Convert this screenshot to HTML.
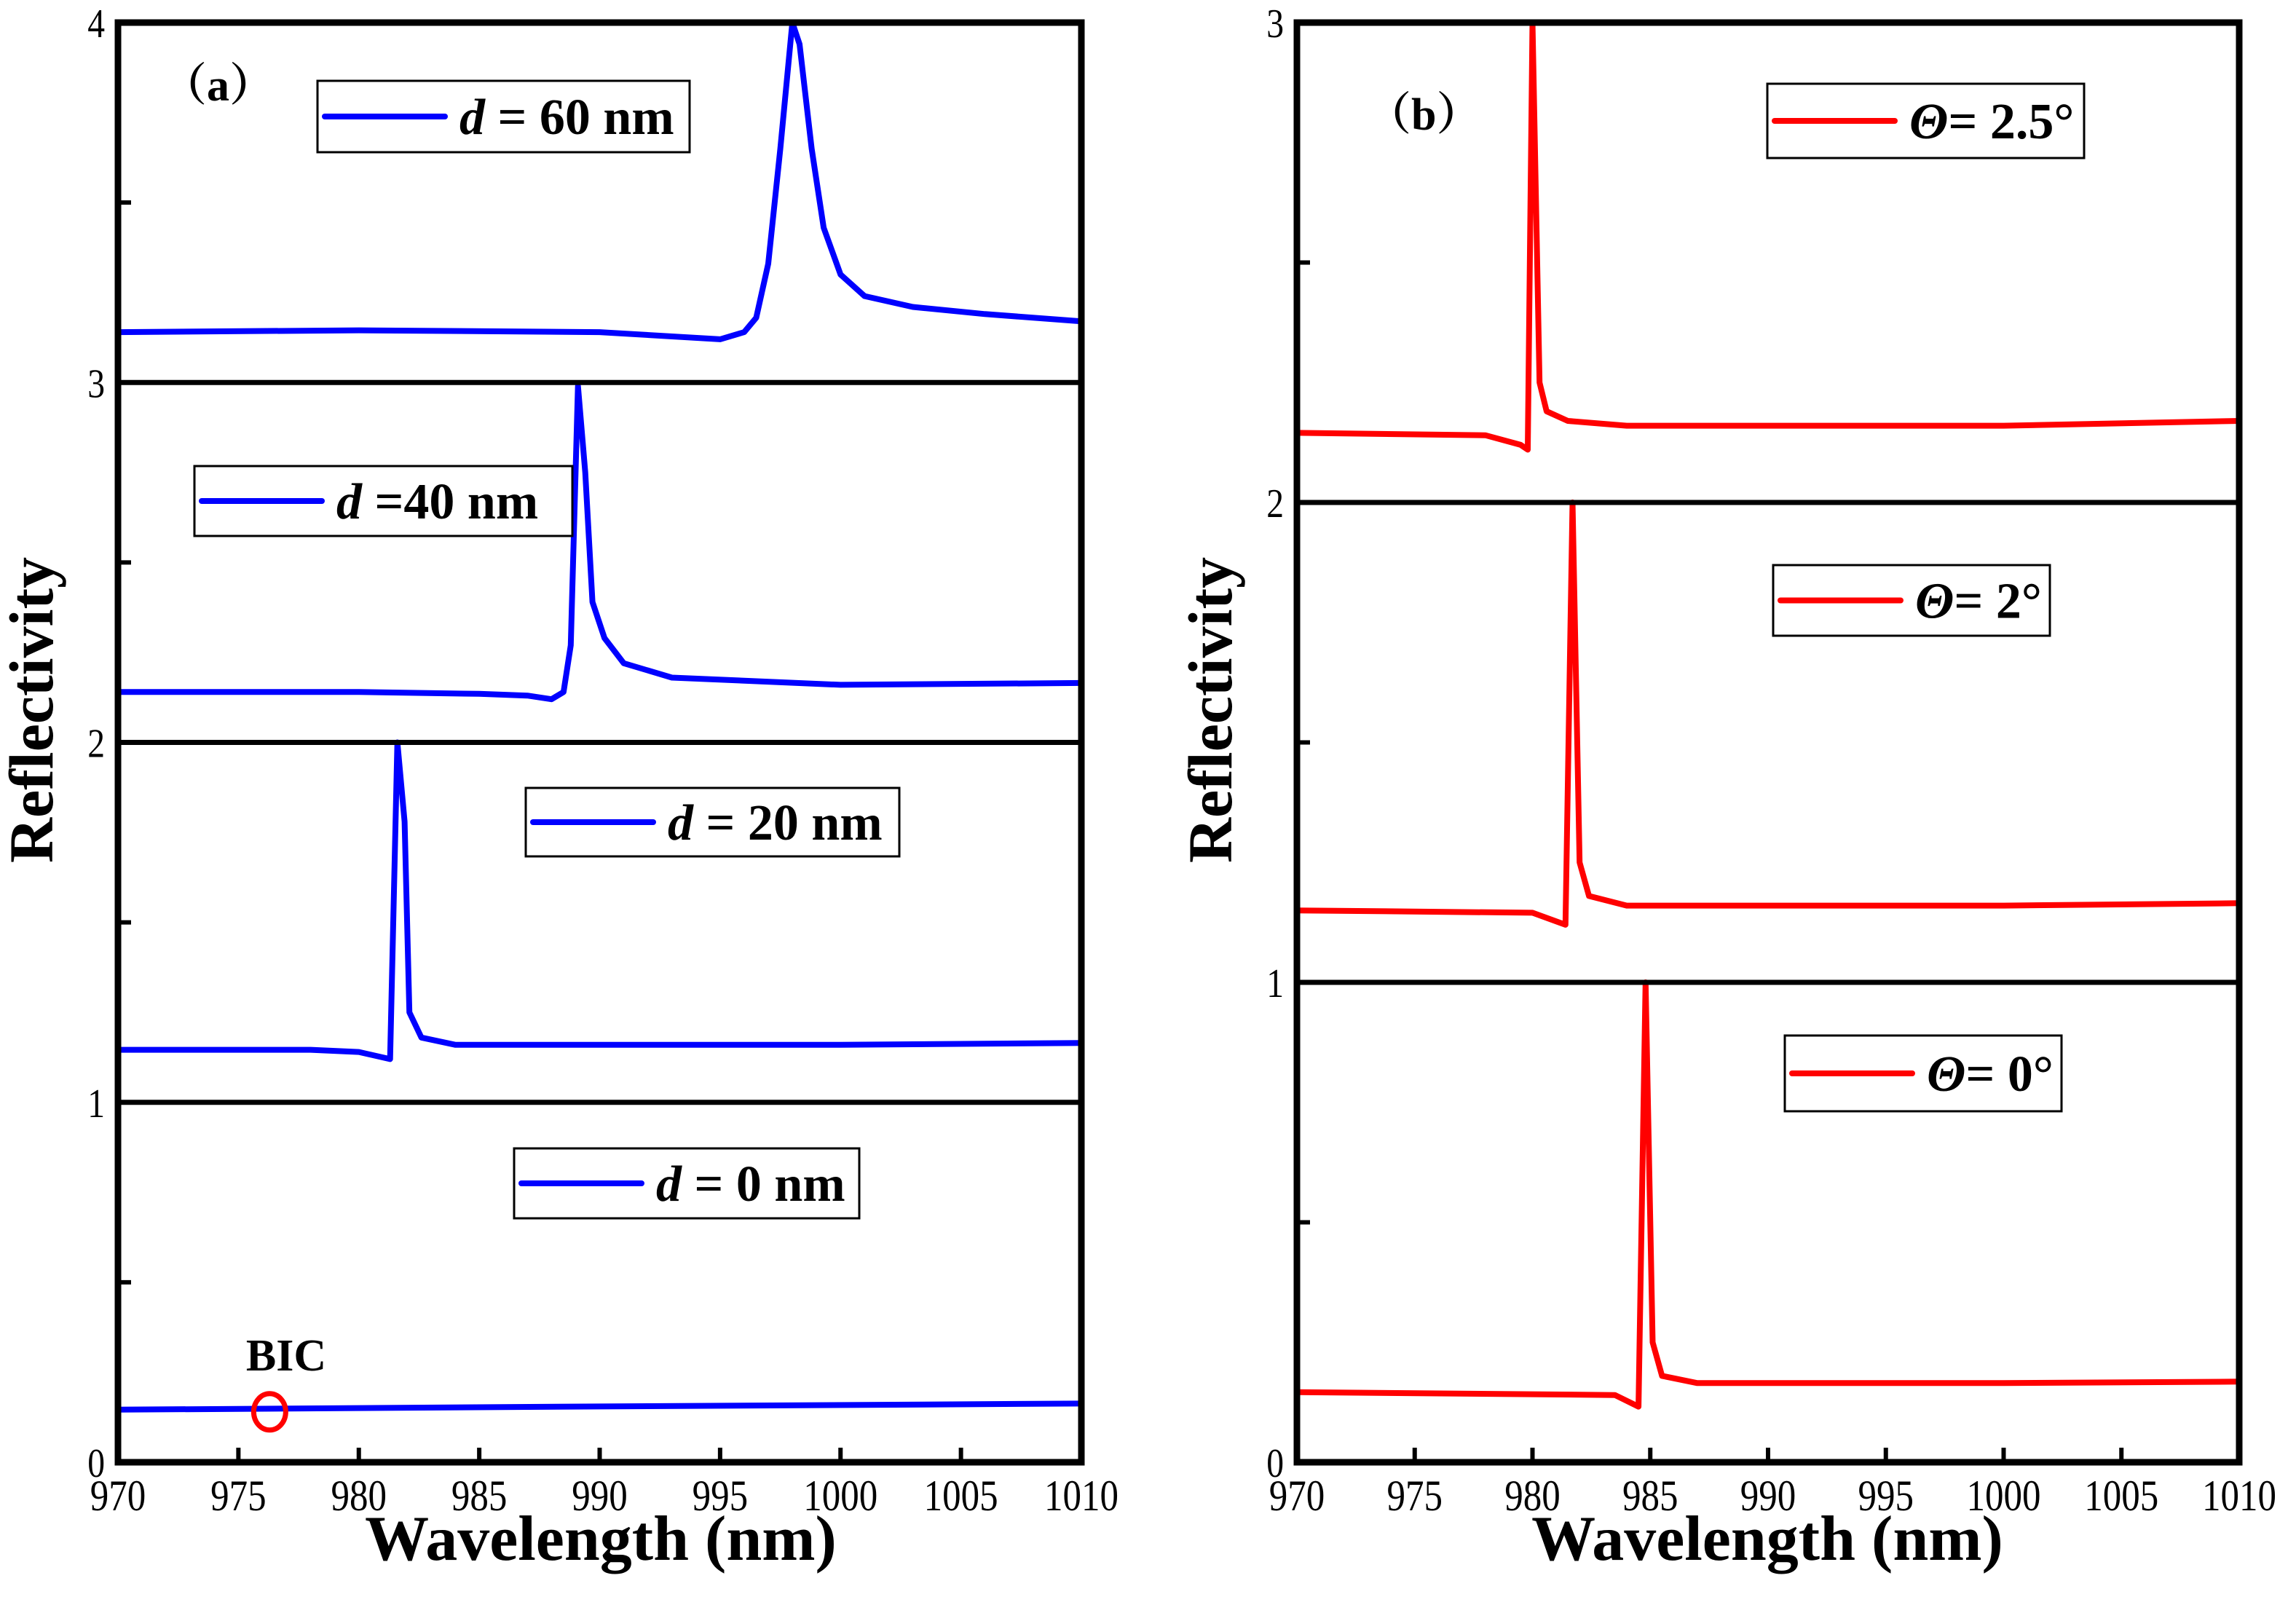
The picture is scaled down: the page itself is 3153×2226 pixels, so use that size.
<!DOCTYPE html>
<html><head><meta charset="utf-8">
<style>
html,body{margin:0;padding:0;background:#fff;}
svg{display:block;}
text{font-family:"Liberation Serif","Noto Serif CJK SC",serif;}
</style></head>
<body>
<svg id="chart" width="3153" height="2226" viewBox="0 0 3153 2226" xmlns="http://www.w3.org/2000/svg">
<g id="pa"></g>
<g id="pb"></g>
</svg>
<script>
const xTicks = [970,975,980,985,990,995,1000,1005,1010];
const aYTicks = [0,1,2,3,4];
const bYTicks = [0,1,2,3];
const aLabels = ["d = 60 nm","d =40 nm","d = 20 nm","d = 0 nm"];
const bLabels = ["= 2.5°","= 2°","= 0°"];
// panel a series (wavelength, reflectivity)
const d60x = [970,980,990,995,996,996.5,997,997.5,998,998.3,998.8,999.3,1000,1001,1003,1006,1010];
const d60y = [3.14,3.145,3.14,3.12,3.14,3.18,3.33,3.65,4.0,3.94,3.65,3.43,3.30,3.24,3.21,3.19,3.17];
const d40x = [970,980,985,987,988,988.5,988.8,989.1,989.4,989.7,990.2,991,993,1000,1010];
const d40y = [2.14,2.14,2.135,2.13,2.12,2.14,2.27,2.99,2.75,2.39,2.29,2.22,2.18,2.16,2.165];
const d20x = [970,978,980,981.3,981.6,981.9,982.1,982.6,984,1000,1010];
const d20y = [1.146,1.146,1.14,1.12,2.0,1.78,1.25,1.18,1.16,1.16,1.165];
const d0x = [970,990,1010];
const d0y = [0.146,0.155,0.163];
// panel b series
const t25x = [970,978,979.5,979.8,980.0,980.3,980.6,981.5,984,1000,1010];
const t25y = [2.145,2.14,2.12,2.11,3.0,2.25,2.19,2.17,2.16,2.16,2.17];
const t2x = [970,980,981.4,981.7,982.0,982.4,984,1000,1010];
const t2y = [1.15,1.145,1.12,2.0,1.25,1.18,1.16,1.16,1.165];
const t0x = [970,983.5,984.5,984.8,985.1,985.5,987,1000,1010];
const t0y = [0.146,0.14,0.116,1.0,0.25,0.18,0.165,0.165,0.168];

const NS="http://www.w3.org/2000/svg";
const FF='"Liberation Serif","Noto Serif CJK SC",serif';
function mk(parent,tag,attrs,text){const e=document.createElementNS(NS,tag);for(const k in attrs)e.setAttribute(k,attrs[k]);if(tag==='text')e.setAttribute('font-family',FF);if(text!==undefined)e.textContent=text;parent.appendChild(e);return e;}

const plotTop=31,plotBot=2008;
function makeAxes(L,R,ymax){
  return {x:v=>L+(v-970)/40*(R-L), y:v=>plotBot-v/ymax*(plotBot-plotTop)};
}

function drawPanel(g,L,R,ymax,yTicks,series,color,legends,titleX){
  const ax=makeAxes(L,R,ymax);
  series.forEach((s,i)=>{
    const d=s[0].map((xv,j)=>(j?'L':'M')+ax.x(xv).toFixed(1)+','+ax.y(s[1][j]).toFixed(1)).join(' ');
    const p=mk(g,'path',{d:d,fill:'none',stroke:color,'stroke-width':8,'stroke-linejoin':'round'});
    
    
  });
  yTicks.slice(1,-1).forEach(v=>{
    const l=mk(g,'line',{x1:L,x2:R,y1:ax.y(v),y2:ax.y(v),stroke:'#000','stroke-width':7});
    
    
  });
  const fr=mk(g,'rect',{x:L,y:plotTop,width:R-L,height:plotBot-plotTop,fill:'none',stroke:'#000','stroke-width':9});
  
  
  xTicks.forEach(v=>{
    const t=mk(g,'line',{x1:ax.x(v),x2:ax.x(v),y1:plotBot,y2:plotBot-20,stroke:'#000','stroke-width':6});
    
    
    const tl=mk(g,'text',{x:0,y:0,'font-size':60,'text-anchor':'middle',transform:`translate(${ax.x(v)},2074) scale(0.85,1)`},String(v));
    
    
  });
  yTicks.forEach(v=>{
    const tl=mk(g,'text',{x:0,y:0,'font-size':56,'text-anchor':'end',transform:`translate(${L-18},${ax.y(v)+20}) scale(0.85,1)`},String(v));
    
    
    if(v<ymax){
      const t=mk(g,'line',{x1:L,x2:L+18,y1:ax.y(v+0.5),y2:ax.y(v+0.5),stroke:'#000','stroke-width':6});
      
      
    }
  });
  legends.forEach(lg=>{
    const [x,y,w,h,label,isTheta]=lg;
    const b=mk(g,'g',{});
    
    
    mk(b,'rect',{x:x,y:y,width:w,height:h,fill:'#fff',stroke:'#000','stroke-width':3});
    mk(b,'line',{x1:x+10,x2:x+175,y1:y+h/2,y2:y+h/2,stroke:color,'stroke-width':8,'stroke-linecap':'round'});
    const t=mk(b,'text',{x:x+195,y:y+h/2+24,'font-size':70,'font-weight':'bold'});
    if(isTheta){
      mk(t,'tspan',{'font-style':'italic'},'Θ');
      mk(t,'tspan',{},label);
    } else {
      mk(t,'tspan',{'font-style':'italic'},'d');
      mk(t,'tspan',{},label.slice(1));
    }
  });
  const yt=mk(g,'text',{x:0,y:0,'font-size':86,'font-weight':'bold','text-anchor':'middle',transform:`translate(${L-90},975) rotate(-90)`},'Reflectivity');
  
  
  const xt=mk(g,'text',{x:titleX,y:2142,'font-size':88,'font-weight':'bold','text-anchor':'middle'},'Wavelength (nm)');
  
  
  return ax;
}

const pa=document.getElementById('pa');
const axA=drawPanel(pa,162,1485,4,aYTicks,
  [[d60x,d60y,'series-d60'],[d40x,d40y,'series-d40'],[d20x,d20y,'series-d20'],[d0x,d0y,'series-d0']],
  '#0000ff',
  [[436,111,511,98,aLabels[0],false],[267,640,519,96,aLabels[1],false],[722,1082,513,94,aLabels[2],false],[706,1577,474,96,aLabels[3],false]],
  825);
const pb=document.getElementById('pb');
drawPanel(pb,1781,3075,3,bYTicks,
  [[t25x,t25y,'series-theta-2-5'],[t2x,t2y,'series-theta-2'],[t0x,t0y,'series-theta-0']],
  '#ff0000',
  [[2427,115,435,102,bLabels[0],true],[2435,776,380,97,bLabels[1],true],[2451,1422,380,104,bLabels[2],true]],
  2427);

const la=mk(pa,'text',{x:222,y:138,'font-size':62,'font-weight':'bold'},'（a）');


const lb=mk(pb,'text',{x:1876,y:178,'font-size':62,'font-weight':'bold'},'（b）');


const bic=mk(pa,'text',{x:393,y:1882,'font-size':62,'font-weight':'bold','text-anchor':'middle'},'BIC');


const circ=mk(pa,'ellipse',{cx:axA.x(976.3),cy:axA.y(0.14),rx:22,ry:25,fill:'none',stroke:'#ff0000','stroke-width':7});


</script>
</body></html>
